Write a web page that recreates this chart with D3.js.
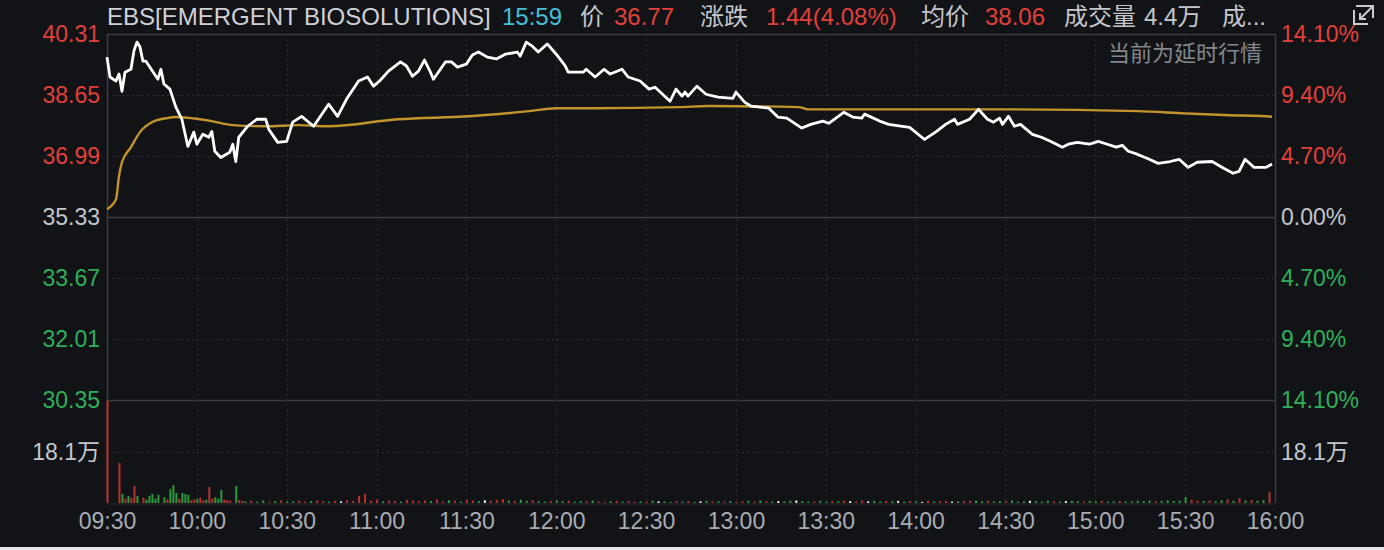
<!DOCTYPE html>
<html>
<head>
<meta charset="utf-8">
<script src="https://cdn.jsdelivr.net/npm/d3@7"></script>
<style>
  html, body { margin: 0; padding: 0; background: #121317; }
  svg { display: block; }
  text { font-family: "Liberation Sans", "Noto Sans CJK SC", sans-serif; }
</style>
</head>
<body>
<div id="root"></div>
<script>
// minutes after 09:30 and last price
const priceMin = [0,1,3,4,5,6,8,9,10,11,12,13,17,18,19,21,23,25,27,29,30,32,34,35,36,38,41,42,43,44,47,50,53,54,57,60,62,65,69,74,77,80,84,87,89,91,94,98,100,102,104,106,108,109,113,115,117,120,122,124,127,130,133,137,138,140,142,144,147,150,153,154,159,160,163,166,168,172,174,178,181,183,188,190,192,193,194,197,200,204,209,210,213,215,221,224,227,232,235,239,241,246,249,252,253,258,261,265,268,273,277,280,283,284,288,291,294,296,298,299,301,303,305,309,312,315,319,321,324,328,331,334,337,339,341,344,348,351,355,358,361,364,369,373,376,378,380,383,387,389];
const priceVal = [39.68,39.14,39.03,39.22,38.75,39.27,39.35,39.85,40.09,39.96,39.57,39.57,39.08,39.35,38.95,38.81,38.32,37.99,37.25,37.64,37.31,37.58,37.50,37.66,37.12,36.95,37.09,37.31,36.84,37.50,37.80,37.99,37.99,37.72,37.36,37.39,37.91,38.07,37.80,38.40,38.07,38.54,39.03,39.14,38.89,39.03,39.30,39.55,39.44,39.16,39.30,39.60,39.27,39.08,39.55,39.55,39.41,39.49,39.74,39.82,39.68,39.63,39.76,39.82,39.71,40.09,39.98,39.82,40.04,39.76,39.44,39.27,39.27,39.35,39.14,39.35,39.22,39.35,39.14,39.03,38.81,38.86,38.48,38.81,38.62,38.73,38.62,38.89,38.67,38.59,38.56,38.73,38.45,38.35,38.29,38.05,38.02,37.75,37.85,37.94,37.88,38.18,38.05,38.02,38.13,37.94,37.85,37.80,37.77,37.44,37.66,37.85,37.99,37.85,37.99,38.26,37.99,37.91,38.02,37.85,38.07,37.80,37.85,37.58,37.50,37.39,37.23,37.31,37.36,37.31,37.39,37.31,37.23,37.28,37.12,37.04,36.90,36.79,36.84,36.90,36.68,36.82,36.84,36.65,36.52,36.57,36.90,36.68,36.68,36.77];

// average price
const avgMin = [0,3,4,5,8,11,15,20,23,31,35,42,53,64,74,97,121,141,150,163,191,201,231,234,298,344,360,375,387,389];
const avgVal = [35.54,35.81,36.44,36.82,37.23,37.64,37.91,38.02,38.05,37.99,37.94,37.83,37.80,37.83,37.80,37.99,38.07,38.21,38.29,38.29,38.32,38.35,38.32,38.26,38.26,38.21,38.15,38.10,38.07,38.06];

// volume (万), first 45 minutes
const volEarlyMin = [0,4,5,6,7,8,9,10,12,13,14,15,16,17,19,20,21,22,23,24,25,26,27,28,29,30,31,32,33,34,35,36,37,38,39,40,41,43,44,45];
const volEarlyVal = [36.0,14.1,3.2,1.5,2.5,1.8,6.0,2.5,1.9,1.2,2.5,3.2,1.5,2.9,2.0,1.2,4.9,6.3,3.5,1.5,3.5,3.2,2.9,1.0,1.2,1.5,1.9,1.0,1.2,5.6,1.5,2.0,1.5,4.6,1.2,1.0,0.8,6.0,1.0,0.8];
const volEarlyDir = ['r','r','g','r','g','r','r','g','r','g','g','g','g','g','g','r','g','g','g','r','g','g','g','r','r','g','r','r','g','r','r','g','g','g','r','r','r','g','r','r'];

// volume (万), two-minute slots from 10:16 to 15:58
const volLateStart = 46;
const volLateVal = [
  0.6,0.8,0.5,0.9,0.4,0.7,1.0,0.5,0.6,0.8,
  0.5,0.7,0.9,0.6,0.4,0.8,0.6,1.0,0.7,2.5,
  3.2,0.8,1.2,0.6,0.9,0.7,0.5,1.1,0.8,0.6,
  0.9,0.7,1.3,0.6,1.0,0.8,0.5,1.2,0.9,0.7,
  1.0,0.8,1.1,1.4,0.9,0.7,1.2,0.8,1.0,0.6,
  0.5,0.7,0.9,0.6,0.8,0.5,0.7,0.6,0.9,0.5,
  0.4,0.6,0.8,0.5,0.7,0.4,0.6,0.5,0.8,0.6,
  0.5,0.4,0.6,0.5,0.7,0.4,0.6,0.8,0.5,0.6,
  0.5,0.7,0.4,0.6,0.8,0.5,0.9,0.6,0.5,0.7,
  0.6,0.8,0.9,0.7,0.5,0.6,0.8,0.5,0.7,0.6,
  0.8,0.7,0.5,0.9,0.6,0.8,0.5,0.7,0.6,0.8,
  0.5,0.7,0.6,0.4,0.8,0.5,0.6,0.7,0.5,0.6,
  0.7,0.8,0.9,0.6,0.8,0.5,0.7,0.6,0.9,0.5,
  0.6,0.8,0.7,0.5,0.9,0.6,0.5,0.7,0.8,0.6,
  0.5,0.7,0.6,0.8,0.5,0.6,0.7,0.5,0.6,0.8,
  0.7,0.9,0.6,0.8,1.0,0.7,0.8,2.1,1.2,0.8,
  0.7,0.9,0.6,1.0,1.3,0.8,1.7,0.9,1.1,0.8,
  1.0,3.9];
const volLateDir = [
  'g','r','g','g','r','g','r','g','g','r',
  'r','g','r','r','g','r','w','r','r','r',
  'r','r','r','g','r','r','g','r','r','r',
  'r','g','r','r','g','r','g','r','r','g',
  'w','r','r','r','g','r','g','g','r','g',
  'g','r','g','g','r','g','g','r','g','r',
  'r','g','r','g','r','r','g','r','g','w',
  'g','g','r','g','r','g','w','g','r','g',
  'r','g','r','r','g','r','g','r','g','w',
  'g','g','w','g','g','r','g','g','r','g',
  'r','w','r','r','w','g','g','r','g','w',
  'g','r','g','w','r','g','r','r','w','g',
  'r','r','g','g','r','g','g','r','g','g',
  'g','w','g','g','g','r','g','w','g','g',
  'r','g','g','r','g','g','r','g','g','g',
  'g','g','r','g','g','g','g','g','r','r',
  'g','r','g','g','r','g','r','g','r','g',
  'g','r'];

const priceTicks = [40.31, 38.65, 36.99, 35.33, 33.67, 32.01, 30.35];
const pctLabels = ['14.10%', '9.40%', '4.70%', '0.00%', '4.70%', '9.40%', '14.10%'];
const prevClose = 35.33;
const volTick = 18.1;
const volMax = 36.2;
const timeTicks = [0, 30, 60, 90, 120, 150, 180, 210, 240, 270, 300, 330, 360, 390];
const timeLabels = ['09:30','10:00','10:30','11:00','11:30','12:00','12:30','13:00','13:30','14:00','14:30','15:00','15:30','16:00'];

const width = 1384, height = 550;
const RED = '#e2403a', GREEN = '#2eb05a', GRAY = '#c4c6cc';
const volColor = { r: '#b8322c', g: '#2a9a3c', w: '#e8e8e8' };

const svg = d3.select('#root').append('svg')
  .attr('width', width).attr('height', height);

svg.append('rect').attr('width', width).attr('height', height).attr('fill', '#121317');

const x = d3.scaleLinear().domain([0, 390]).range([107, 1275]);
const yP = d3.scaleLinear().domain([30.35, 40.31]).range([400, 34]);
const yV = d3.scaleLinear().domain([0, volMax]).range([503, 400]);

// grid
const grid = svg.append('g');
priceTicks.forEach(v => {
  const solid = (v === prevClose || v === 30.35 || v === 40.31);
  grid.append('line')
    .attr('x1', x(0)).attr('x2', x(390))
    .attr('y1', Math.round(yP(v)) + 0.5).attr('y2', Math.round(yP(v)) + 0.5)
    .attr('stroke', solid ? '#3a3d46' : '#2c2f37')
    .attr('stroke-width', solid ? 1.5 : 1)
    .attr('stroke-dasharray', solid ? null : '2,3');
});
grid.append('line')
  .attr('x1', x(0)).attr('x2', x(390))
  .attr('y1', Math.round(yV(volTick)) + 0.5).attr('y2', Math.round(yV(volTick)) + 0.5)
  .attr('stroke', '#2c2f37').attr('stroke-dasharray', '2,3');
timeTicks.forEach(t => {
  const edge = (t === 0 || t === 390);
  grid.append('line')
    .attr('x1', Math.round(x(t)) + 0.5).attr('x2', Math.round(x(t)) + 0.5)
    .attr('y1', yP(40.31)).attr('y2', yV(0))
    .attr('stroke', edge ? '#3a3d46' : '#2a2d35')
    .attr('stroke-width', edge ? 1.5 : 1)
    .attr('stroke-dasharray', edge ? null : '2,3');
});
grid.append('line')
  .attr('x1', x(0)).attr('x2', x(390))
  .attr('y1', yV(0) + 1).attr('y2', yV(0) + 1)
  .attr('stroke', '#2a2d35');

// volume bars
const volData = volEarlyMin.map((m, i) => ({ m, v: volEarlyVal[i], d: volEarlyDir[i] }))
  .concat(volLateVal.map((v, i) => ({ m: volLateStart + i * 2, v, d: volLateDir[i] })));
svg.append('g').selectAll('rect').data(volData).join('rect')
  .attr('x', d => x(d.m) - 0.5)
  .attr('width', 2)
  .attr('y', d => yV(d.v))
  .attr('height', d => yV(0) - yV(d.v))
  .attr('fill', d => volColor[d.d]);

// average and price lines
const avgLine = d3.line().x((d, i) => x(avgMin[i])).y(d => yP(d)).curve(d3.curveMonotoneX);
svg.append('path').attr('d', avgLine(avgVal))
  .attr('fill', 'none').attr('stroke', '#c3942c').attr('stroke-width', 2.4);

const priceLine = d3.line().x((d, i) => x(priceMin[i])).y(d => yP(d));
svg.append('path').attr('d', priceLine(priceVal))
  .attr('fill', 'none').attr('stroke', '#ffffff').attr('stroke-width', 2.8)
  .attr('stroke-linejoin', 'round');

// axis labels
const lab = svg.append('g').attr('font-size', 23);
priceTicks.forEach((v, i) => {
  const c = v > prevClose ? RED : (v < prevClose ? GREEN : GRAY);
  lab.append('text').attr('x', 100).attr('y', yP(v)).attr('dy', '0.36em')
    .attr('text-anchor', 'end').attr('fill', c).text(v.toFixed(2));
  lab.append('text').attr('x', 1281).attr('y', yP(v)).attr('dy', '0.36em')
    .attr('fill', c).text(pctLabels[i]);
});
lab.append('text').attr('x', 100).attr('y', yV(volTick)).attr('dy', '0.36em')
  .attr('text-anchor', 'end').attr('fill', GRAY).text(volTick + '万');
lab.append('text').attr('x', 1281).attr('y', yV(volTick)).attr('dy', '0.36em')
  .attr('fill', GRAY).text(volTick + '万');

const xAxis = d3.axisBottom(x).tickValues(timeTicks)
  .tickFormat((d, i) => timeLabels[i]).tickSize(0).tickPadding(0);
const gx = svg.append('g').attr('transform', `translate(0,${yV(0)})`).call(xAxis);
gx.select('.domain').remove();
gx.selectAll('text').attr('font-size', 23).attr('fill', '#a9acb3')
  .attr('dy', null).attr('y', 26);

// header
const header = [
  { t: 'EBS[EMERGENT BIOSOLUTIONS]', x: 107, c: '#cfd1d6' },
  { t: '15:59', x: 502, c: '#45bfd6' },
  { t: '价', x: 580, c: GRAY },
  { t: '36.77', x: 614, c: RED },
  { t: '涨跌', x: 700, c: GRAY },
  { t: '1.44(4.08%)', x: 766, c: RED },
  { t: '均价', x: 921, c: GRAY },
  { t: '38.06', x: 985, c: RED },
  { t: '成交量', x: 1064, c: GRAY },
  { t: '4.4万', x: 1144, c: GRAY },
  { t: '成...', x: 1222, c: GRAY }
];
svg.append('g').attr('font-size', 24).selectAll('text').data(header).join('text')
  .attr('x', d => d.x).attr('y', 25).attr('fill', d => d.c).text(d => d.t);

svg.append('text').attr('x', 1262).attr('y', 61).attr('text-anchor', 'end')
  .attr('font-size', 22).attr('fill', '#85878d').text('当前为延时行情');

// expand icon
const icon = svg.append('g').attr('fill', 'none').attr('stroke', '#c9cbd0').attr('stroke-width', 2);
icon.append('path').attr('d', 'M1356,6 H1373 V18');
icon.append('path').attr('d', 'M1372,7 L1360,19 M1360,13 V19 H1366');
icon.append('path').attr('d', 'M1354,10 V24 H1368');

// bottom strip
svg.append('rect').attr('x', 0).attr('y', 547).attr('width', width).attr('height', 3).attr('fill', '#e6e6e6');
</script>
</body>
</html>
